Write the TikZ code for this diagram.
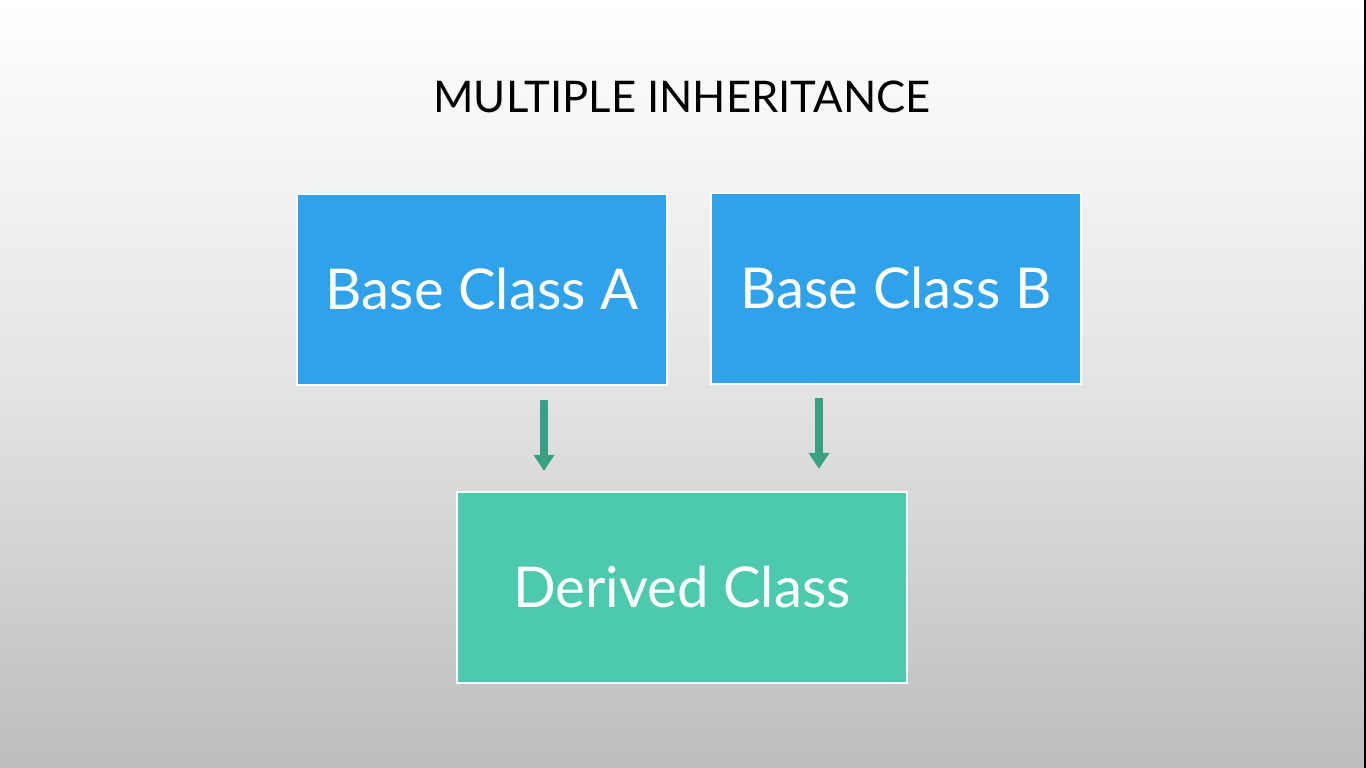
\documentclass[tikz,border=0pt]{standalone}
\usepackage{fontspec}
\setmainfont{Lato}
\usepackage{xcolor}
\usepackage{tikz}
\usetikzlibrary{calc, positioning, arrows.meta}

\definecolor{baseblue}{HTML}{30A2EC}
\definecolor{derivedgreen}{HTML}{4DCAAE}
\definecolor{arrowgreen}{HTML}{38A083}
\definecolor{bgtop}{HTML}{FFFFFF}
\definecolor{bgmid}{HTML}{E4E4E4}
\definecolor{bgbot}{HTML}{BDBDBD}

\tikzset{
	classbox/.style={draw=white, line width=0.6pt, minimum height=1.91cm,
		text=white, font=\fontsize{16}{19}\selectfont, inner sep=0pt},
	inherit/.style={draw=arrowgreen, line width=2.3pt,
		-{Triangle[width=0.2cm, length=0.16cm]}}
}

\begin{document}
\begin{tikzpicture}[x=0.01cm, y=-0.01cm]
	% slide background
	\shade[top color=bgtop, bottom color=bgbot, middle color=bgmid] (0,0) rectangle (1366,768);
	\fill[black] (1364,0) rectangle (1366,768);
	\useasboundingbox (0,0) rectangle (1366,768);

	\node[font=\fontsize{12.4}{15}\selectfont] (title) at (682,97) {MULTIPLE INHERITANCE};

	\begin{scope}
		\node[classbox, fill=baseblue, minimum width=3.70cm] (A) at (482,289.5) {Base Class A};
		\node[classbox, fill=baseblue, minimum width=3.70cm] (B) at (896,288.5) {Base Class B};
		\node[classbox, fill=derivedgreen, minimum width=4.50cm] (D) at (682,587.5) {Derived Class};
	\end{scope}

	\begin{scope}
		\coordinate (a1) at ($ (A.south) + (62,14) $);
		\coordinate (b1) at ($ (B.south) + (-77,13) $);
		\draw[inherit] (a1) -- ($ (a1 |- D.north) + (0,-20) $);
		\draw[inherit] (b1) -- ($ (b1 |- D.north) + (0,-22) $);
	\end{scope}
\end{tikzpicture}
\end{document}
